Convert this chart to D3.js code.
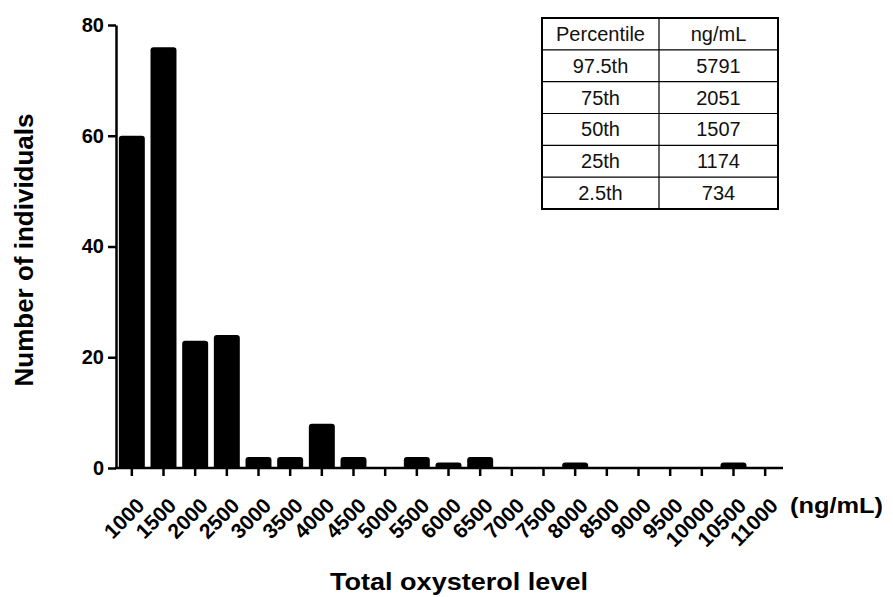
<!DOCTYPE html>
<html>
<head>
<meta charset="utf-8">
<script src="https://cdn.jsdelivr.net/npm/d3@7"></script>
<style>
    body { margin: 0; background: #fff; }
    svg { display: block; font-family: Arial, "Liberation Sans", sans-serif; }
</style>
</head>
<body>
<div id="chart"></div>
<script>
// histogram bins (ng/mL) and counts
const binLabels = ["1000", "1500", "2000", "2500", "3000", "3500", "4000", "4500", "5000", "5500",
    "6000", "6500", "7000", "7500", "8000", "8500", "9000", "9500", "10000", "10500", "11000"];
const counts = [60, 76, 23, 24, 2, 2, 8, 2, 0, 2, 1, 2, 0, 0, 1, 0, 0, 0, 0, 1, 0];
const yTicks = [0, 20, 40, 60, 80];

// percentile table
const tableHeader = ["Percentile", "ng/mL"];
const percentiles = ["97.5th", "75th", "50th", "25th", "2.5th"];
const percentileValues = [5791, 2051, 1507, 1174, 734];

const width = 893, height = 597;
const plot = { left: 116, right: 781, top: 25, bottom: 468 };

const svg = d3.select("#chart").append("svg")
    .attr("width", width)
    .attr("height", height);

const x = d3.scaleBand()
    .domain(binLabels)
    .range([plot.left, plot.right])
    .paddingInner(0.18)
    .paddingOuter(0.09);

const y = d3.scaleLinear()
    .domain([0, 80])
    .range([plot.bottom, plot.top]);

// bars with rounded top corners
function barPath(x0, w, yTop, yBase) {
    const r = Math.min(3, (yBase - yTop), w / 2);
    return `M${x0},${yBase}V${yTop + r}Q${x0},${yTop} ${x0 + r},${yTop}H${x0 + w - r}Q${x0 + w},${yTop} ${x0 + w},${yTop + r}V${yBase}Z`;
}

svg.append("g").selectAll("path")
    .data(binLabels.map((b, i) => ({ bin: b, value: counts[i] })).filter(d => d.value > 0))
    .enter().append("path")
    .attr("d", d => barPath(x(d.bin), x.bandwidth(), y(d.value), y(0)))
    .attr("fill", "#000");

// y axis
const yAxis = svg.append("g")
    .attr("transform", `translate(${plot.left},0)`)
    .call(d3.axisLeft(y).tickValues(yTicks).tickSize(8).tickSizeOuter(0).tickPadding(4));

// x axis
const xAxis = svg.append("g")
    .attr("transform", `translate(0,${plot.bottom})`)
    .call(d3.axisBottom(x).tickSize(8).tickSizeOuter(0));

xAxis.select(".domain").attr("d", `M${plot.left - 1},0H${plot.right + 2}`);

[xAxis, yAxis].forEach(a => {
    a.select(".domain").attr("stroke", "#000").attr("stroke-width", 2.5);
    a.selectAll(".tick line").attr("stroke", "#000").attr("stroke-width", 2.5);
});

yAxis.selectAll(".tick text")
    .attr("font-size", 20)
    .attr("font-weight", "bold")
    .attr("fill", "#000");

xAxis.selectAll(".tick text")
    .attr("font-size", 21)
    .attr("font-weight", "bold")
    .attr("fill", "#000")
    .attr("y", 0)
    .attr("dy", 0)
    .attr("text-anchor", "end")
    .attr("transform", "translate(14,39) rotate(-45)");

// axis titles
svg.append("text")
    .attr("transform", "translate(33,250) rotate(-90)")
    .attr("text-anchor", "middle")
    .attr("font-size", 26)
    .attr("font-weight", "bold")
    .text("Number of individuals");

svg.append("text")
    .attr("x", 330)
    .attr("y", 590)
    .attr("font-size", 23)
    .attr("font-weight", "bold")
    .attr("textLength", 258)
    .attr("lengthAdjust", "spacingAndGlyphs")
    .text("Total oxysterol level");

svg.append("text")
    .attr("x", 790)
    .attr("y", 513)
    .attr("font-size", 22)
    .attr("font-weight", "bold")
    .attr("textLength", 93)
    .attr("lengthAdjust", "spacingAndGlyphs")
    .text("(ng/mL)");

// percentile table
const table = { left: 542, right: 778, top: 18, bottom: 209, split: 659 };
const rows = [tableHeader].concat(percentiles.map((p, i) => [p, String(percentileValues[i])]));
const rowY = d3.scaleLinear().domain([0, rows.length]).range([table.top, table.bottom]);

const tg = svg.append("g");
d3.range(1, rows.length).forEach(i => {
    tg.append("line")
        .attr("x1", table.left).attr("x2", table.right)
        .attr("y1", rowY(i)).attr("y2", rowY(i))
        .attr("stroke", "#000").attr("stroke-width", 1.2);
});
tg.append("line")
    .attr("x1", table.split).attr("x2", table.split)
    .attr("y1", table.top).attr("y2", table.bottom)
    .attr("stroke", "#000").attr("stroke-width", 1.2);
tg.append("rect")
    .attr("x", table.left).attr("y", table.top)
    .attr("width", table.right - table.left).attr("height", table.bottom - table.top)
    .attr("fill", "none").attr("stroke", "#000").attr("stroke-width", 2);

const colCenters = [(table.left + table.split) / 2, (table.split + table.right) / 2];
rows.forEach((row, i) => {
    row.forEach((cell, j) => {
        tg.append("text")
            .attr("x", colCenters[j])
            .attr("y", (rowY(i) + rowY(i + 1)) / 2 + 7)
            .attr("text-anchor", "middle")
            .attr("font-size", 20)
            .attr("fill", "#111")
            .text(cell);
    });
});
</script>
</body>
</html>
